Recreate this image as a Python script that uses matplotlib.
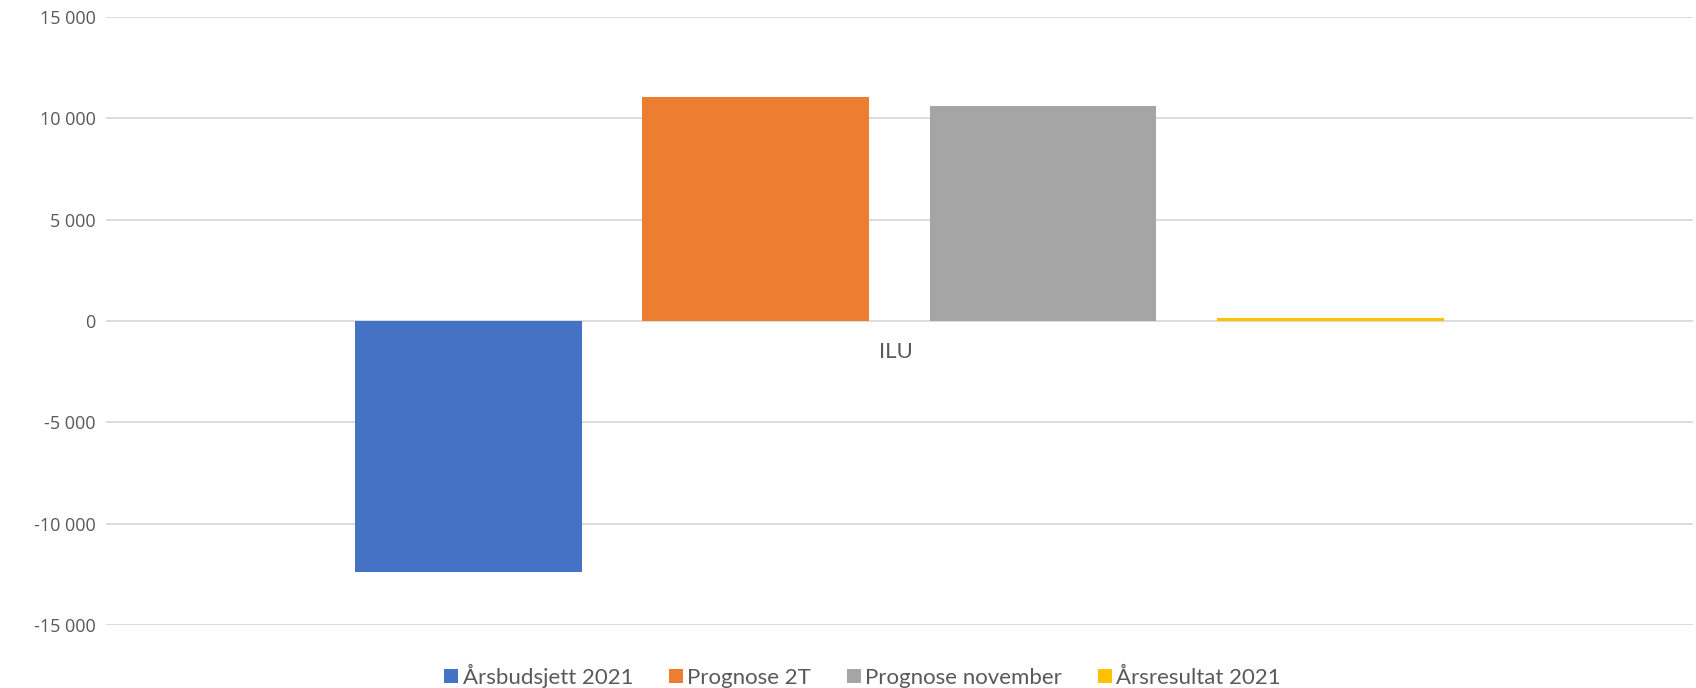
import matplotlib
matplotlib.use("Agg")
import matplotlib.pyplot as plt
from matplotlib.ticker import FuncFormatter

category = "ILU"
series = ["Årsbudsjett 2021", "Prognose 2T", "Prognose november", "Årsresultat 2021"]
values = [-12400, 11050, 10600, 170]
colors = ["#4472C4", "#ED7D31", "#A5A5A5", "#FFC000"]
yticks = [-15000, -10000, -5000, 0, 5000, 10000, 15000]

fig = plt.figure(figsize=(16.96, 6.88), dpi=100)
ax = fig.add_axes([0.0625, 0.0916, 0.9355, 0.8837])

bar_w = 0.143
step = 0.1812
n = len(series)
for i, (s, v, c) in enumerate(zip(series, values, colors)):
    x = (i - (n - 1) / 2) * step
    ax.bar(x, v, width=bar_w, color=c, label=s, zorder=3)

ax.set_xlim(-0.5, 0.5)
ax.set_ylim(-15000, 15000)
ax.set_yticks(yticks)
ax.yaxis.set_major_formatter(FuncFormatter(lambda v, p: f"{int(v):,}".replace(",", " ")))
ax.grid(axis="y", color="#D9D9D9", linewidth=1.3, zorder=0)
ax.set_xticks([])
for sp in ax.spines.values():
    sp.set_visible(False)
ax.tick_params(axis="y", length=0, pad=7.5, labelsize=13, labelcolor="#595959")
for lab in ax.get_yticklabels():
    lab.set_fontfamily("Open Sans")

ax.text(-0.002, -1550, category, ha="center", va="center", fontsize=16,
        color="#595959", fontfamily="Lato")

leg = fig.legend(loc="center", bbox_to_anchor=(0.5085, 0.018), ncol=4, frameon=False,
                 handlelength=0.63, handleheight=0.63, handletextpad=0.2, columnspacing=1.6,
                 prop={"family": ["Lato", "DejaVu Sans"], "size": 16})
for t in leg.get_texts():
    t.set_color("#595959")

fig.savefig("out.png", dpi=100, facecolor="white")
